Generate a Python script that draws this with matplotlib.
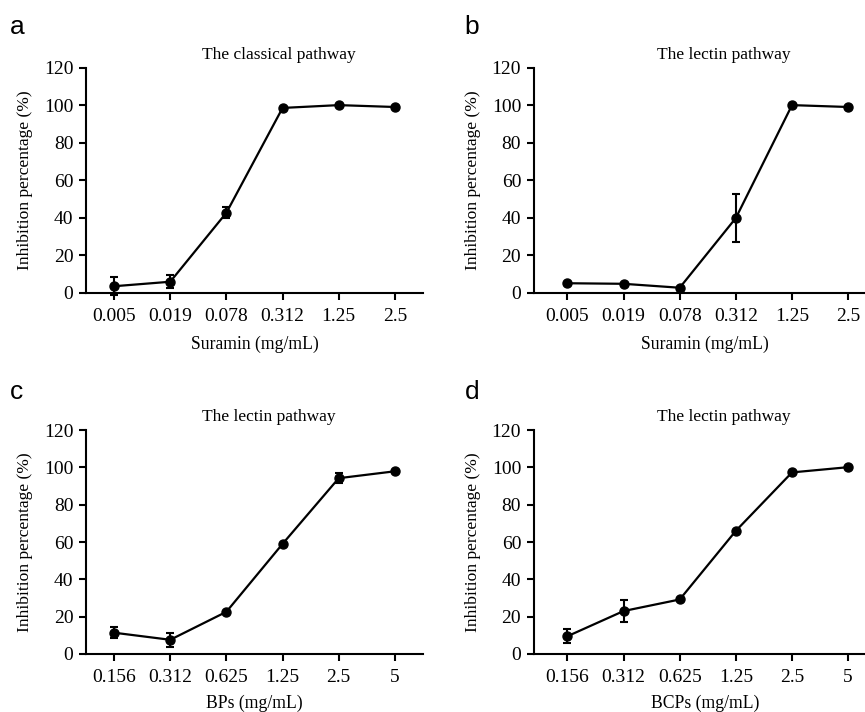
import numpy as np
import matplotlib
matplotlib.use("Agg")
import matplotlib.pyplot as plt

plt.rcParams["font.family"] = ["Liberation Serif", "DejaVu Serif"]

SURAMIN_TICKS = ["0.005", "0.019", "0.078", "0.312", "1.25", "2.5"]
BP_TICKS = ["0.156", "0.312", "0.625", "1.25", "2.5", "5"]

a_vals = [3.6, 6.0, 42.8, 98.7, 100.2, 99.2]
a_err = [4.8, 3.6, 2.9, 0.0, 0.0, 0.0]

b_vals = [5.2, 4.9, 2.8, 40.0, 100.2, 99.2]
b_err = [0.0, 0.0, 0.0, 13.0, 0.0, 0.0]

c_vals = [11.4, 7.6, 22.6, 59.0, 94.2, 97.9]
c_err = [3.0, 3.6, 0.0, 0.0, 2.8, 0.0]

d_vals = [9.5, 23.0, 29.2, 66.0, 97.3, 100.1]
d_err = [3.8, 5.7, 0.0, 0.0, 0.0, 0.0]

panels = [
    ("a", "The classical pathway", SURAMIN_TICKS, a_vals, a_err, "Suramin (mg/mL)",
     [0.0994, 0.5885, 0.3896, 0.316], -0.5, (0.011, 0.962), (0.2335, 0.9228), 8),
    ("b", "The lectin pathway", SURAMIN_TICKS, b_vals, b_err, "Suramin (mg/mL)",
     [0.617, 0.5885, 0.396, 0.316], -0.6, (0.537, 0.962), (0.7595, 0.9228), 8),
    ("c", "The lectin pathway", BP_TICKS, c_vals, c_err, "BPs (mg/mL)",
     [0.0994, 0.0815, 0.3896, 0.3145], -0.5, (0.011, 0.449), (0.2335, 0.4143), 6.5),
    ("d", "The lectin pathway", BP_TICKS, d_vals, d_err, "BCPs (mg/mL)",
     [0.617, 0.0815, 0.396, 0.3145], -0.6, (0.537, 0.449), (0.7595, 0.4143), 6.5),
]

fig = plt.figure(figsize=(8.65, 7.12), dpi=100)

for letter, title, ticks, vals, errs, xlabel, rect, xmin, lpos, tpos, xpad in panels:
    ax = fig.add_axes(rect)
    x = np.arange(len(ticks))
    ax.errorbar(x, vals, yerr=errs, color="black", lw=1.6, marker="o",
                markersize=6.5, capsize=3, capthick=1.5, elinewidth=1.5,
                clip_on=False, zorder=3)
    ax.set_xlim(xmin, 5.5)
    ax.set_ylim(0, 120)
    ax.set_yticks(np.arange(0, 121, 20))
    ax.set_xticks(x)
    ax.set_xticklabels(ticks)
    ax.spines["top"].set_visible(False)
    ax.spines["right"].set_visible(False)
    ax.spines["left"].set_linewidth(1.5)
    ax.spines["bottom"].set_linewidth(1.5)
    ax.tick_params(direction="out", length=5, width=1.5, labelsize=14, pad=4)
    ax.tick_params(axis="x", pad=5.5)
    ax.set_xlabel(xlabel, fontsize=12.7, labelpad=xpad)
    ax.set_ylabel("Inhibition percentage (%)", fontsize=12.6, labelpad=8)
    fig.text(tpos[0], tpos[1], title, ha="left", va="center", fontsize=12.5)
    fig.text(lpos[0], lpos[1], letter, fontsize=19, family="Liberation Sans",
             ha="left", va="center")

fig.savefig("out.png", dpi=100)
